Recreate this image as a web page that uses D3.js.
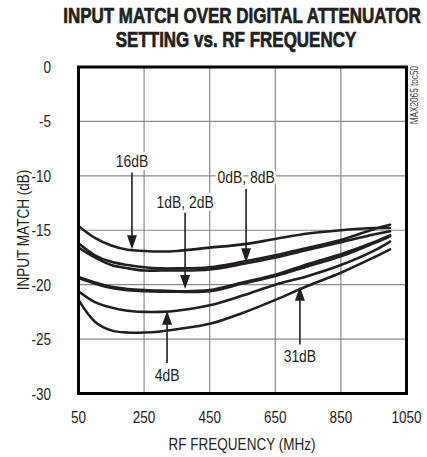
<!DOCTYPE html>
<html><head><meta charset="utf-8">
<script src="https://cdn.jsdelivr.net/npm/d3@7"></script>
<style>
html,body{margin:0;padding:0;background:#fff;}
svg{display:block;}
text{font-family:"Liberation Sans","Arimo",Arial,sans-serif;fill:#231f20;}
</style></head>
<body>
<svg id="c" width="427" height="457"></svg>
<script>
// ---- data ----
const freqs = [50,100,150,200,250,300,350,450,550,650,750,850,950,1000];
const att16 = [-14.6,-15.7,-16.4,-16.8,-16.9,-16.95,-16.9,-16.6,-16.3,-15.8,-15.3,-15.0,-14.8,-14.8];
const att0  = [-16.2,-17.3,-17.9,-18.2,-18.4,-18.5,-18.5,-18.4,-17.9,-17.3,-16.6,-15.9,-14.9,-14.5];
const att8  = [-16.6,-17.5,-18.2,-18.5,-18.7,-18.7,-18.7,-18.6,-18.1,-17.5,-16.8,-16.1,-15.4,-15.1];
const att1  = [-19.3,-19.8,-20.2,-20.4,-20.5,-20.55,-20.6,-20.5,-19.8,-19.1,-18.1,-17.2,-16.1,-15.45];
const att2  = [-19.4,-19.9,-20.3,-20.5,-20.6,-20.65,-20.65,-20.6,-19.9,-19.2,-18.3,-17.4,-16.2,-15.55];
const att4  = [-20.6,-21.6,-22.1,-22.4,-22.5,-22.5,-22.4,-21.9,-21.0,-20.0,-19.2,-18.2,-16.9,-16.05];
const att31 = [-21.4,-23.4,-24.2,-24.4,-24.4,-24.3,-24.1,-23.6,-22.6,-21.4,-20.1,-18.9,-17.5,-16.75];
const seriesNames = ["16dB","0dB","8dB","1dB","2dB","4dB","31dB"];
const seriesValues = [att16,att0,att8,att1,att2,att4,att31];
const xTicks = [50,250,450,650,850,1050];
const yTicks = [0,-5,-10,-15,-20,-25,-30];
const titleLines = ["INPUT MATCH OVER DIGITAL ATTENUATOR","SETTING vs. RF FREQUENCY"];
const xTitle = "RF FREQUENCY (MHz)";
const yTitle = "INPUT MATCH (dB)";
const sideNote = "MAX2065 toc50";
// annotations: label, label position (MHz, dB), arrow start dB, arrow tip dB
const annLabels = ["16dB","0dB, 8dB","1dB, 2dB","4dB","31dB"];
const annFreq   = [213, 561, 375, 320, 725];
const annTextDb = [-8.65, -10.1, -12.4, -28.3, -26.6];
const annFromDb = [-9.7, -11.2, -13.4, -27.2, -25.5];
const annTipDb  = [-16.75, -17.95, -20.4, -22.4, -20.2];

// ---- chart ----
const svg = d3.select("#c");
const L=78.5, R=406.5, T=67, B=393.5;
const x = d3.scaleLinear().domain([50,1050]).range([L,R]);
const y = d3.scaleLinear().domain([-30,0]).range([B,T]);
const ink = "#231f20";
const SX = 0.82; // condensed look

function ntext(parent, tx, ty, anchor, size, str, extra){
  const t = parent.append("text")
    .attr("transform",`translate(${tx},${ty}) ${extra||""} scale(${SX},1)`)
    .attr("text-anchor",anchor).attr("font-size",size).text(str);
  return t;
}

// grid
const g = svg.append("g");
g.selectAll("line.vx").data(xTicks.slice(1,-1)).enter().append("line")
  .attr("x1",d=>x(d)).attr("x2",d=>x(d)).attr("y1",T).attr("y2",B)
  .attr("stroke","#8a8a8a").attr("stroke-width",1.2);
g.selectAll("line.hy").data(yTicks.slice(1,-1)).enter().append("line")
  .attr("x1",L).attr("x2",R).attr("y1",d=>y(d)).attr("y2",d=>y(d))
  .attr("stroke","#8a8a8a").attr("stroke-width",1.2);

// curves
const line = d3.line().x((d,i)=>x(freqs[i])).y(d=>y(d)).curve(d3.curveCatmullRom.alpha(0.5));
svg.append("g").selectAll("path").data(seriesValues).enter().append("path")
  .attr("d",d=>line(d)).attr("fill","none").attr("stroke",ink)
  .attr("stroke-width",2.6).attr("stroke-linejoin","round").attr("stroke-linecap","round");

// annotation labels with white backing
const ann = svg.append("g");
annLabels.forEach((lab,i)=>{
  const cx = x(annFreq[i]), cy = y(annTextDb[i]);
  ntext(ann, cx, cy+6, "middle", 17, lab)
    .attr("stroke","#fff").attr("stroke-width",6).attr("paint-order","stroke");
  const y0 = y(annFromDb[i]), y1 = y(annTipDb[i]);
  const dir = y1>y0 ? 1 : -1;
  const hl = 14, hw = 5;
  ann.append("line").attr("x1",cx).attr("x2",cx).attr("y1",y0).attr("y2",y1-dir*hl+dir*1)
    .attr("stroke",ink).attr("stroke-width",1.6);
  ann.append("path").attr("d",`M${cx},${y1}L${cx-hw},${y1-dir*hl}L${cx+hw},${y1-dir*hl}Z`).attr("fill",ink);
});

// frame
svg.append("rect").attr("x",L).attr("y",T).attr("width",R-L).attr("height",B-T)
  .attr("fill","none").attr("stroke","#000").attr("stroke-width",3);

// tick labels
const yt = svg.append("g");
yTicks.forEach(d=>ntext(yt, 51, y(d)+6, "end", 16.5, d));
const xt = svg.append("g");
xTicks.forEach(d=>ntext(xt, x(d), 423, "middle", 16.5, d));

// axis titles
ntext(svg, 242, 450, "middle", 16.5, xTitle);
ntext(svg, 29, 230, "middle", 16.5, yTitle, "rotate(-90)");

// title
ntext(svg, 242, 23, "middle", 21.5, titleLines[0]).attr("font-weight","bold")
  .attr("stroke",ink).attr("stroke-width",0.7)
  .attr("transform","translate(242,23) scale(0.79,1)");
ntext(svg, 236, 47, "middle", 21.5, titleLines[1]).attr("font-weight","bold")
  .attr("stroke",ink).attr("stroke-width",0.7)
  .attr("transform","translate(236,47) scale(0.79,1)");

// side note
ntext(svg, 418, 66, "end", 10, sideNote, "rotate(-90)").style("fill","#444");
</script>
</body></html>
